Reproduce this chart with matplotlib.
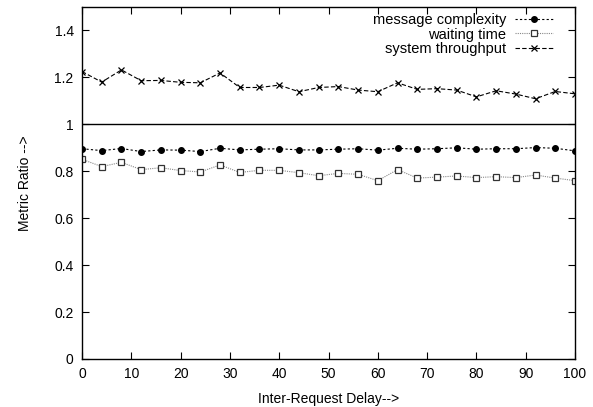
import matplotlib
matplotlib.use("Agg")
import matplotlib.pyplot as plt

plt.rcParams['font.family'] = ['Liberation Sans', 'DejaVu Sans']

# inter-request delay (x) and the three metric ratios
delay = [0, 4, 8, 12, 16, 20, 24, 28, 32, 36, 40, 44, 48,
         52, 56, 60, 64, 68, 72, 76, 80, 84, 88, 92, 96, 100]

msg_complexity = [0.896, 0.888, 0.897, 0.884, 0.891, 0.890, 0.884, 0.898, 0.891,
                  0.894, 0.896, 0.891, 0.891, 0.894, 0.896, 0.890, 0.898, 0.894,
                  0.896, 0.900, 0.894, 0.896, 0.896, 0.901, 0.898, 0.887]

waiting_time = [0.851, 0.820, 0.838, 0.807, 0.815, 0.803, 0.797, 0.827, 0.795,
                0.804, 0.804, 0.794, 0.781, 0.791, 0.787, 0.760, 0.807, 0.771,
                0.775, 0.780, 0.773, 0.777, 0.773, 0.784, 0.771, 0.760]

throughput = [1.225, 1.180, 1.232, 1.186, 1.187, 1.179, 1.177, 1.219, 1.157,
              1.157, 1.167, 1.139, 1.157, 1.161, 1.146, 1.139, 1.177, 1.149,
              1.152, 1.146, 1.117, 1.143, 1.129, 1.109, 1.140, 1.130]

xticks = list(range(0, 101, 10))
yticks = [0, 0.2, 0.4, 0.6, 0.8, 1.0, 1.2, 1.4]
ytick_labels = ['0', '0.2', '0.4', '0.6', '0.8', '1', '1.2', '1.4']

fig = plt.figure(figsize=(5.93, 4.07), dpi=100)
ax = fig.add_axes([82 / 593, 1 - 359 / 407, (575 - 82) / 593, (359 - 7) / 407])

ax.axhline(1.0, color='black', lw=1.0, zorder=1)

ax.plot(delay, msg_complexity, color='black', lw=0.8, ls=(0, (2, 2)),
        marker='o', ms=4, mfc='black', mec='black', label='message complexity')
ax.plot(delay, waiting_time, color='#888888', lw=0.8, ls=(0, (1, 1)),
        marker='s', ms=4.5, mfc='white', mec='#333333', mew=0.9, label='waiting time')
ax.plot(delay, throughput, color='black', lw=0.8, ls=(0, (4, 2)),
        marker='x', ms=5, mec='black', mew=0.9, label='system throughput')

ax.set_xlim(0, 100)
ax.set_ylim(0, 1.5)
ax.set_xticks(xticks)
ax.set_yticks(yticks)
ax.set_yticklabels(ytick_labels)
ax.tick_params(direction='in', top=True, right=True, length=5, width=0.8,
               labelsize=10, pad=6)
for s in ax.spines.values():
    s.set_linewidth(1.0)

ax.set_xlabel('Inter-Request Delay-->', fontsize=10, labelpad=8)
ax.set_ylabel('Metric Ratio -->', fontsize=10, labelpad=16)

ax.legend(loc='upper right', frameon=False, markerfirst=False, fontsize=10.5,
          handlelength=2.6, labelspacing=0.05, handletextpad=0.64,
          borderaxespad=0.0, bbox_to_anchor=(0.9675, 1.0))

fig.savefig('out.png', dpi=100)
